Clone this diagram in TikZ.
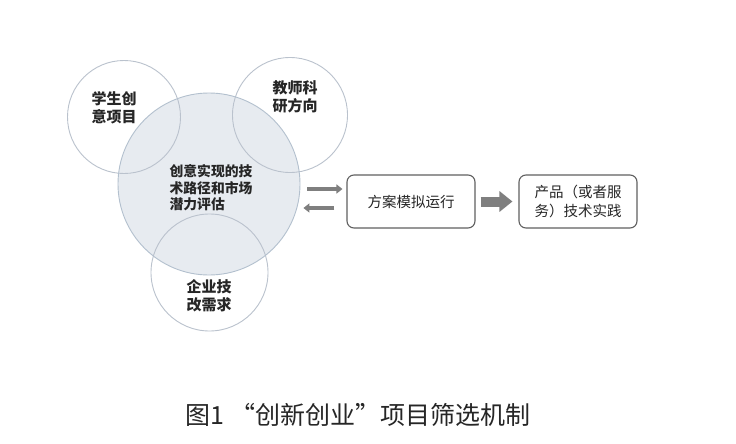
\documentclass[tikz,border=0pt]{standalone}
\usepackage{fontspec}
\newfontfamily\cjk{Noto Sans CJK SC}
\usetikzlibrary{arrows.meta,calc}
\definecolor{bigfill}{HTML}{E7EBF0}
\definecolor{bigdraw}{HTML}{B3C0CE}
\definecolor{smalldraw}{HTML}{BAC2CD}
\definecolor{boxdraw}{HTML}{606060}
\definecolor{arrgray}{HTML}{7F7F7F}
\definecolor{txt}{HTML}{262626}
\tikzset{
  smallc/.style={circle,draw=smalldraw,line width=0.9pt,minimum size=#1,inner sep=0pt},
  ctext/.style={font=\cjk\bfseries\fontsize{15}{18}\selectfont,text=txt,align=center},
  btext/.style={font=\cjk\bfseries\fontsize{13.8}{16.5}\selectfont,text=txt,align=left},
  stepbox/.style={draw=boxdraw,line width=1.1pt,rounded corners=7pt,minimum height=53pt,
    font=\cjk\fontsize{14.5}{19}\selectfont,text=txt,align=center},
  thinarr/.style={draw=arrgray,line width=4.5pt,-{Triangle[width=9pt,length=6pt]}},
  fatarr/.style={draw=arrgray,line width=10pt,-{Triangle[width=20pt,length=13pt]}}
}
\begin{document}
\begin{tikzpicture}[x=1pt,y=-1pt]
\useasboundingbox[fill=white] (0,0) rectangle (736,444);
% big circle
\node[circle,fill=bigfill,minimum size=182pt,inner sep=0pt] (big) at (209,184) {};
% small circles
\node[smallc=113pt] (c1) at (124,117) {};
\node[smallc=115pt] (c2) at (290,115) {};
\node[smallc=117pt] (c4) at (209.5,272.5) {};
\draw[bigdraw,line width=0.9pt] (big) circle[radius=91pt];
% texts
\node[ctext] (t1) at (114,108) {学生创\\意项目};
\node[ctext] (t2) at (295,97) {教师科\\研方向};
\node[btext] (tb) at (211,188) {创意实现的技\\术路径和市场\\潜力评估};
\node[ctext] (t4) at (209,296) {企业技\\改需求};
% boxes
\node[stepbox,minimum width=128pt] (b1) at (411,201.5) {方案模拟运行};
\node[stepbox,minimum width=118pt] (b2) at (578,201.5) {产品（或者服\\务）技术实践};
% arrows
\draw[thinarr] ([xshift=-39pt,yshift=12.5pt]b1.west) -- ([xshift=-4pt,yshift=12.5pt]b1.west);
\draw[thinarr] ([xshift=-12pt,yshift=-6.5pt]b1.west) -- ([xshift=-43pt,yshift=-6.5pt]b1.west);
\draw[fatarr] ([xshift=5pt]b1.east) -- ([xshift=-6pt]b2.west);
% caption
\node[font=\cjk\fontsize{25}{29}\selectfont,text=txt] (cap) at (358,415) {图1 “创新创业”项目筛选机制};
\end{tikzpicture}
\end{document}
